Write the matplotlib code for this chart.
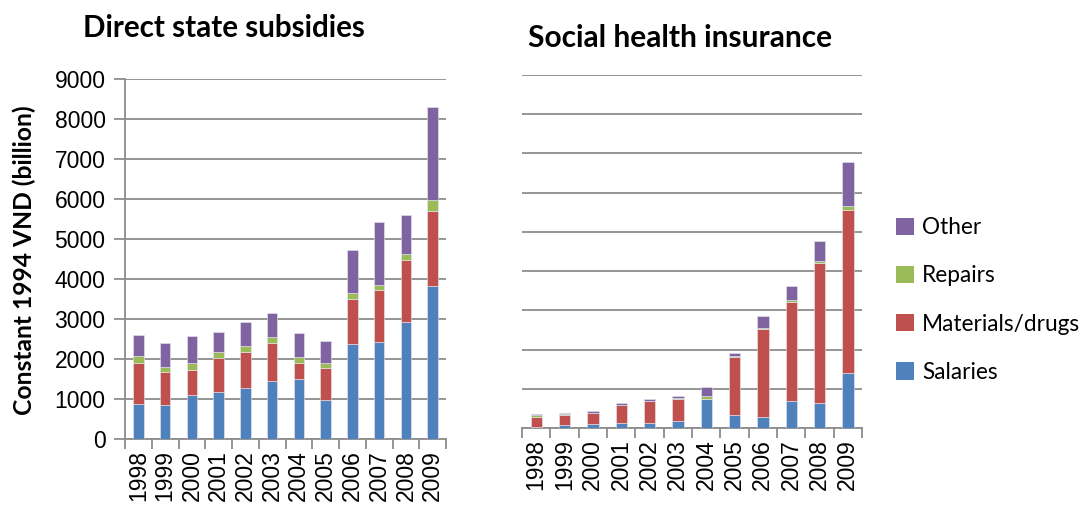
import matplotlib
matplotlib.use("Agg")
import matplotlib.pyplot as plt
import numpy as np
from matplotlib.patches import Patch

years = ["1998", "1999", "2000", "2001", "2002", "2003", "2004", "2005", "2006", "2007", "2008", "2009"]

# Direct state subsidies (constant 1994 VND, billion)
dss_salaries = [870, 840, 1090, 1180, 1270, 1450, 1510, 975, 2375, 2420, 2925, 3830]
dss_materials = [1020, 835, 640, 850, 915, 960, 400, 790, 1115, 1300, 1560, 1870]
dss_repairs = [175, 135, 160, 140, 135, 140, 140, 125, 165, 135, 135, 275]
dss_other = [525, 585, 685, 510, 600, 590, 590, 565, 1070, 1565, 975, 2315]

# Social health insurance
shi_salaries = [15, 70, 95, 135, 120, 185, 750, 340, 270, 695, 635, 1395]
shi_materials = [275, 255, 280, 445, 560, 560, 0, 1470, 2250, 2525, 3560, 4170]
shi_repairs = [30, 25, 20, 17, 17, 17, 65, 25, 25, 40, 60, 95]
shi_other = [35, 25, 40, 40, 40, 60, 220, 70, 315, 355, 510, 1130]

series_names = ["Salaries", "Materials/drugs", "Repairs", "Other"]
colors = ["#4F81BD", "#C0504D", "#9BBB59", "#8064A2"]

TICK_FONT = "Liberation Sans"
TEXT_FONT = "Lato"
GRID = "#8C8C8C"

fig = plt.figure(figsize=(10.92, 5.08), dpi=100)
ax1 = fig.add_axes([125/1092, 1-439/508, 321/1092, 360/508])
ax2 = fig.add_axes([522/1092, 1-428/508, 340/1092, 353/508])

x = np.arange(len(years))
w = 0.4

def draw(ax, data, show_y):
    bottom = np.zeros(len(years))
    for vals, c in zip(data, colors):
        v = np.array(vals, dtype=float)
        ax.bar(x, v, w, bottom=bottom, color=c, edgecolor="#E8E8F0", linewidth=0.4, zorder=3)
        bottom += v
    ax.set_xlim(-0.5, len(years) - 0.5)
    ax.set_ylim(0, 9000)
    ax.set_yticks(np.arange(0, 9001, 1000))
    ax.yaxis.grid(True, color=GRID, linewidth=1.3, zorder=0)
    ax.set_axisbelow(True)
    ax.set_xticks(x)
    ax.set_xticklabels(years, rotation=90, fontsize=16.5, fontfamily=TICK_FONT)
    ax.tick_params(axis="x", which="major", length=0, pad=8)
    ax.set_xticks(np.arange(-0.5, len(years), 1), minor=True)
    ax.tick_params(axis="x", which="minor", length=7, width=1.3, color=GRID)
    for s in ["top", "right"]:
        ax.spines[s].set_visible(False)
    ax.spines["bottom"].set_color(GRID)
    ax.spines["bottom"].set_linewidth(1.3)
    if show_y:
        ax.spines["left"].set_color(GRID)
        ax.spines["left"].set_linewidth(1.3)
        ax.tick_params(axis="y", length=8, width=1.3, color=GRID, pad=6)
        for lab in ax.get_yticklabels():
            lab.set_fontfamily(TICK_FONT)
            lab.set_fontsize(16.5)
    else:
        ax.spines["left"].set_visible(False)
        ax.tick_params(axis="y", length=0, labelleft=False)

draw(ax1, [dss_salaries, dss_materials, dss_repairs, dss_other], True)
draw(ax2, [shi_salaries, shi_materials, shi_repairs, shi_other], False)

fig.text(224/1092, 1-28/508, "Direct state subsidies", ha="center", va="center",
         fontsize=21.3, fontweight="bold", fontfamily=TEXT_FONT)
fig.text(680/1092, 1-38/508, "Social health insurance", ha="center", va="center",
         fontsize=21.5, fontweight="bold", fontfamily=TEXT_FONT)
fig.text(24/1092, 1-260/508, "Constant 1994 VND (billion)", rotation=90, ha="center", va="center",
         fontsize=17.7, fontweight="bold", fontfamily=TEXT_FONT)

handles = [Patch(facecolor=c, edgecolor="none") for c in colors[::-1]]
leg = fig.legend(handles, series_names[::-1], loc="center left",
                 bbox_to_anchor=(887/1092, 1-300/508), frameon=False,
                 prop={"family": TEXT_FONT, "size": 16.3},
                 handlelength=0.8, handleheight=0.8, handletextpad=0.35,
                 labelspacing=1.2, borderaxespad=0)

fig.savefig("out.png", dpi=100)
